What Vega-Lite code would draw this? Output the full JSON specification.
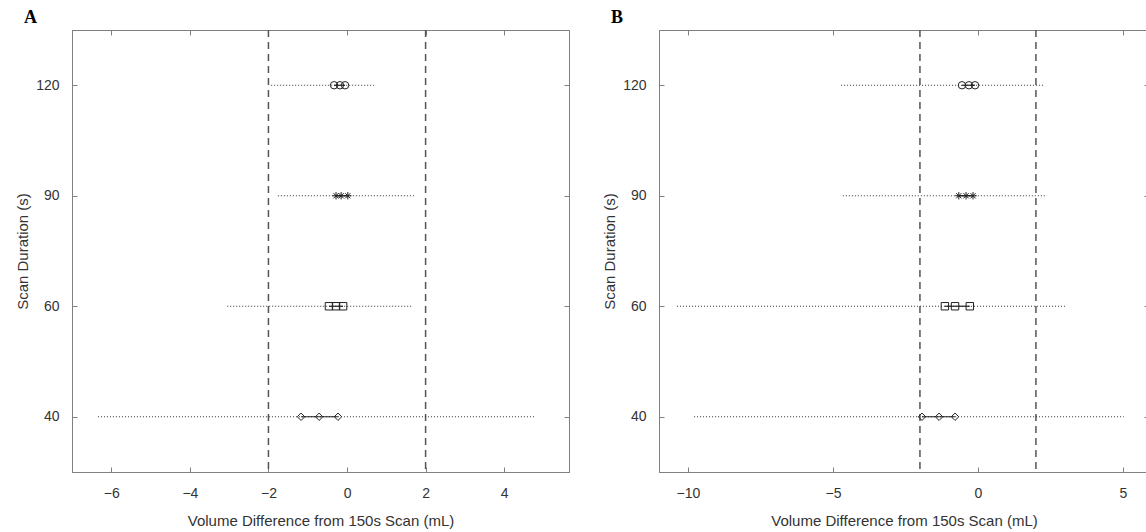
{
  "$schema": "https://vega.github.io/schema/vega-lite/v6.json",
  "background": "white",
  "padding": {"left": 15, "top": 8, "right": 0, "bottom": 0},
  "datasets": {
    "intervals": [
      {"panel": "A", "dur": "120", "lo": -1.93, "hi": 0.69, "clo": -0.33, "chi": -0.05},
      {"panel": "A", "dur": "90", "lo": -1.76, "hi": 1.73, "clo": -0.28, "chi": 0.02},
      {"panel": "A", "dur": "60", "lo": -3.05, "hi": 1.68, "clo": -0.46, "chi": -0.10},
      {"panel": "A", "dur": "40", "lo": -6.34, "hi": 4.76, "clo": -1.17, "chi": -0.23},
      {"panel": "B", "dur": "120", "lo": -4.72, "hi": 2.31, "clo": -0.55, "chi": -0.10},
      {"panel": "B", "dur": "90", "lo": -4.66, "hi": 2.38, "clo": -0.66, "chi": -0.17},
      {"panel": "B", "dur": "60", "lo": -10.38, "hi": 3.0, "clo": -1.14, "chi": -0.28},
      {"panel": "B", "dur": "40", "lo": -9.79, "hi": 5.03, "clo": -1.93, "chi": -0.79}
    ],
    "points": [
      {"panel": "A", "dur": "120", "v": -0.33}, {"panel": "A", "dur": "120", "v": -0.18}, {"panel": "A", "dur": "120", "v": -0.05},
      {"panel": "A", "dur": "90", "v": -0.28}, {"panel": "A", "dur": "90", "v": -0.15}, {"panel": "A", "dur": "90", "v": 0.02},
      {"panel": "A", "dur": "60", "v": -0.46}, {"panel": "A", "dur": "60", "v": -0.28}, {"panel": "A", "dur": "60", "v": -0.10},
      {"panel": "A", "dur": "40", "v": -1.17}, {"panel": "A", "dur": "40", "v": -0.71}, {"panel": "A", "dur": "40", "v": -0.23},
      {"panel": "B", "dur": "120", "v": -0.55}, {"panel": "B", "dur": "120", "v": -0.31}, {"panel": "B", "dur": "120", "v": -0.10},
      {"panel": "B", "dur": "90", "v": -0.66}, {"panel": "B", "dur": "90", "v": -0.41}, {"panel": "B", "dur": "90", "v": -0.17},
      {"panel": "B", "dur": "60", "v": -1.14}, {"panel": "B", "dur": "60", "v": -0.79}, {"panel": "B", "dur": "60", "v": -0.28},
      {"panel": "B", "dur": "40", "v": -1.93}, {"panel": "B", "dur": "40", "v": -1.34}, {"panel": "B", "dur": "40", "v": -0.79}
    ],
    "limits": [{"v": -2}, {"v": 2}]
  },
  "config": {
    "font": "Liberation Sans",
    "view": {"stroke": "#808080", "strokeWidth": 1},
    "axis": {
      "grid": false,
      "domainColor": "#808080",
      "tickColor": "#808080",
      "tickSize": -5,
      "labelFont": "Liberation Sans",
      "labelFontSize": 14,
      "labelColor": "#333333",
      "titleFont": "Liberation Sans",
      "titleFontSize": 15,
      "titleFontWeight": "normal",
      "titleColor": "#333333"
    },
    "axisX": {"labelPadding": 19, "titlePadding": 13},
    "axisY": {"labelPadding": 18, "titlePadding": 5},
    "title": {"font": "Liberation Serif", "fontWeight": "bold", "fontSize": 18, "anchor": "start", "frame": "group", "color": "#000000"}
  },
  "spacing": 90,
  "bounds": "flush",
  "hconcat": [
    {
      "width": 497,
      "height": 442,
      "title": {"text": "A", "dx": -48, "dy": 2, "offset": 4},
      "resolve": {"axis": {"x": "independent", "y": "independent"}},
      "layer": [
        {
          "data": {"name": "limits"},
          "mark": {"type": "rule", "strokeDash": [7, 5], "strokeWidth": 1.5, "color": "#555555"},
          "encoding": {
            "x": {"field": "v", "type": "quantitative", "scale": {"domain": [-7, 5.65], "nice": false, "zero": false},
              "axis": {"orient": "bottom", "values": [-6, -4, -2, 0, 2, 4], "title": "Volume Difference from 150s Scan (mL)"}}
          }
        },
        {
          "data": {"name": "intervals"},
          "transform": [{"filter": "datum.panel === 'A'"}],
          "mark": {"type": "rule", "strokeDash": [1, 2], "strokeWidth": 1, "color": "#333333"},
          "encoding": {
            "x": {"field": "lo", "type": "quantitative", "scale": {"domain": [-7, 5.65], "nice": false, "zero": false},
              "axis": {"orient": "top", "values": [-6, -4, -2, 0, 2, 4], "labels": false, "title": null}},
            "x2": {"field": "hi"},
            "y": {"field": "dur", "type": "ordinal", "scale": {"type": "point", "padding": 0.5, "domain": ["120", "90", "60", "40"]},
              "axis": {"orient": "left", "title": "Scan Duration (s)"}}
          }
        },
        {
          "data": {"name": "intervals"},
          "transform": [{"filter": "datum.panel === 'A'"}],
          "mark": {"type": "rule", "strokeWidth": 1.2, "color": "#222222"},
          "encoding": {
            "x": {"field": "clo", "type": "quantitative", "scale": {"domain": [-7, 5.65], "nice": false, "zero": false}, "axis": null},
            "x2": {"field": "chi"},
            "y": {"field": "dur", "type": "ordinal", "scale": {"type": "point", "padding": 0.5, "domain": ["120", "90", "60", "40"]},
              "axis": {"orient": "right", "labels": false, "title": null}}
          }
        },
        {
          "data": {"name": "points"},
          "transform": [{"filter": "datum.panel === 'A'"}],
          "mark": {"type": "point", "filled": false, "strokeWidth": 1, "color": "#222222", "opacity": 1},
          "encoding": {
            "x": {"field": "v", "type": "quantitative", "scale": {"domain": [-7, 5.65], "nice": false, "zero": false}, "axis": null},
            "y": {"field": "dur", "type": "ordinal", "scale": {"type": "point", "padding": 0.5, "domain": ["120", "90", "60", "40"]}, "axis": null},
            "shape": {"field": "dur", "type": "nominal", "legend": null,
              "scale": {"domain": ["120", "90", "60", "40"], "range": ["circle", "M-1,0L1,0M0,-1L0,1M-0.7,-0.7L0.7,0.7M-0.7,0.7L0.7,-0.7", "square", "diamond"]}},
            "size": {"value": 55}
          }
        }
      ]
    },
    {
      "width": 490,
      "height": 442,
      "title": {"text": "B", "dx": -48, "dy": 2, "offset": 4},
      "resolve": {"axis": {"x": "independent", "y": "independent"}},
      "layer": [
        {
          "data": {"name": "limits"},
          "mark": {"type": "rule", "strokeDash": [7, 5], "strokeWidth": 1.5, "color": "#555555"},
          "encoding": {
            "x": {"field": "v", "type": "quantitative", "scale": {"domain": [-11, 5.9], "nice": false, "zero": false},
              "axis": {"orient": "bottom", "values": [-10, -5, 0, 5], "title": "Volume Difference from 150s Scan (mL)"}}
          }
        },
        {
          "data": {"name": "intervals"},
          "transform": [{"filter": "datum.panel === 'B'"}],
          "mark": {"type": "rule", "strokeDash": [1, 2], "strokeWidth": 1, "color": "#333333"},
          "encoding": {
            "x": {"field": "lo", "type": "quantitative", "scale": {"domain": [-11, 5.9], "nice": false, "zero": false},
              "axis": {"orient": "top", "values": [-10, -5, 0, 5], "labels": false, "title": null}},
            "x2": {"field": "hi"},
            "y": {"field": "dur", "type": "ordinal", "scale": {"type": "point", "padding": 0.5, "domain": ["120", "90", "60", "40"]},
              "axis": {"orient": "left", "title": "Scan Duration (s)"}}
          }
        },
        {
          "data": {"name": "intervals"},
          "transform": [{"filter": "datum.panel === 'B'"}],
          "mark": {"type": "rule", "strokeWidth": 1.2, "color": "#222222"},
          "encoding": {
            "x": {"field": "clo", "type": "quantitative", "scale": {"domain": [-11, 5.9], "nice": false, "zero": false}, "axis": null},
            "x2": {"field": "chi"},
            "y": {"field": "dur", "type": "ordinal", "scale": {"type": "point", "padding": 0.5, "domain": ["120", "90", "60", "40"]},
              "axis": {"orient": "right", "labels": false, "title": null}}
          }
        },
        {
          "data": {"name": "points"},
          "transform": [{"filter": "datum.panel === 'B'"}],
          "mark": {"type": "point", "filled": false, "strokeWidth": 1, "color": "#222222", "opacity": 1},
          "encoding": {
            "x": {"field": "v", "type": "quantitative", "scale": {"domain": [-11, 5.9], "nice": false, "zero": false}, "axis": null},
            "y": {"field": "dur", "type": "ordinal", "scale": {"type": "point", "padding": 0.5, "domain": ["120", "90", "60", "40"]}, "axis": null},
            "shape": {"field": "dur", "type": "nominal", "legend": null,
              "scale": {"domain": ["120", "90", "60", "40"], "range": ["circle", "M-1,0L1,0M0,-1L0,1M-0.7,-0.7L0.7,0.7M-0.7,0.7L0.7,-0.7", "square", "diamond"]}},
            "size": {"value": 55}
          }
        }
      ]
    }
  ]
}
